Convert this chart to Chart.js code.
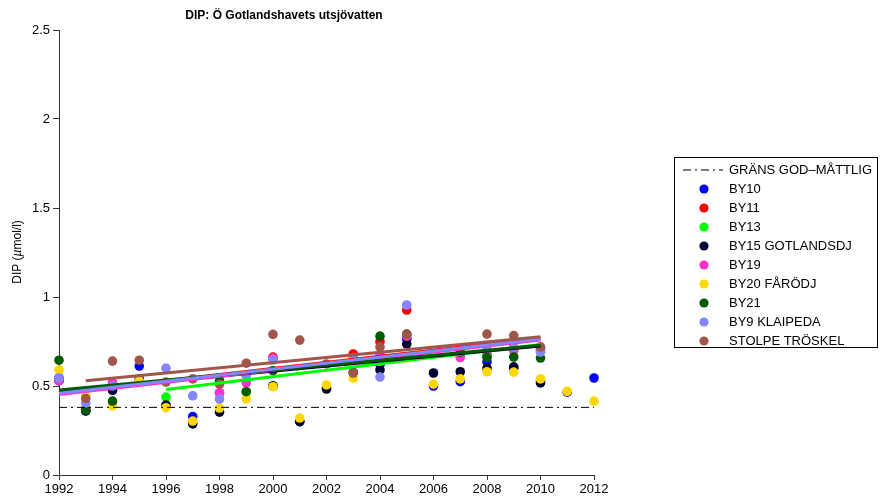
<!DOCTYPE html>
<html>
<head>
<meta charset="utf-8">
<script src="https://cdn.jsdelivr.net/npm/chart.js@4"></script>
<style>
html, body { margin: 0; padding: 0; background: #fff; }
</style>
</head>
<body>
<canvas id="chart" width="882" height="502"></canvas>
<script>
// year axis 1992..2012, one value per year (null = no sample)
const years = [1992,1993,1994,1995,1996,1997,1998,1999,2000,2001,2002,2003,2004,2005,2006,2007,2008,2009,2010,2011,2012];

const by10   = [0.545,0.36,0.48,0.612,0.39,0.328,null,null,0.50,0.30,0.49,null,0.62,0.764,0.50,0.524,0.636,0.60,0.53,0.465,0.545];
const by11   = [0.53,0.37,0.51,null,null,null,0.46,null,0.662,null,null,0.68,0.749,0.927,null,0.67,0.67,null,0.71,null,null];
const by13   = [null,null,null,null,0.438,null,null,0.465,null,null,null,null,0.66,null,null,null,0.68,0.72,0.70,null,null];
const by15   = [0.53,0.36,0.475,0.54,0.393,0.287,0.353,null,0.50,0.30,0.483,0.575,0.59,0.736,0.573,0.58,0.60,0.608,0.517,null,null];
const by19   = [0.53,0.37,0.52,null,null,null,0.462,0.518,0.655,null,null,0.66,0.674,0.78,null,0.66,0.70,0.70,0.70,null,null];
const by20   = [0.59,0.445,0.388,0.528,0.378,0.303,0.376,0.427,0.496,0.32,0.506,0.545,0.64,0.657,0.51,0.54,0.58,0.578,0.54,0.47,0.415];
const by21   = [0.645,0.365,0.415,null,null,null,0.53,0.468,0.586,null,null,null,0.78,0.792,null,0.69,0.66,0.663,0.657,null,null];
const by9    = [0.545,0.405,0.50,null,0.60,0.445,0.427,0.558,0.646,null,null,0.652,0.55,0.955,null,null,0.727,0.72,0.69,null,null];
const stolpe = [null,0.43,0.64,0.645,0.522,0.54,0.51,0.628,0.79,0.758,0.624,0.573,0.719,0.79,null,null,0.792,0.783,0.72,null,null];

// trend lines, start and end
const trendBY11   = [[1992, 0.462], [2010, 0.770]];
const trendBY13   = [[1996, 0.480], [2010, 0.733]];
const trendBY15   = [[1992, 0.470], [2010, 0.725]];
const trendBY19   = [[1992, 0.452], [2010, 0.758]];
const trendBY21   = [[1992, 0.478], [2010, 0.729]];
const trendBY9    = [[1992, 0.459], [2010, 0.764]];
const trendStolpe = [[1993, 0.530], [2010, 0.777]];

const limitLabel = "GRÄNS GOD–MÅTTLIG";
const limit = [[1992, 0.38], [2012, 0.38]];

const stations = [
  { label: "BY10", values: by10, color: "#0000ff" },
  { label: "BY11", values: by11, color: "#ff0000", trend: trendBY11 },
  { label: "BY13", values: by13, color: "#00ff00", trend: trendBY13 },
  { label: "BY15 GOTLANDSDJ", values: by15, color: "#00002e", trend: trendBY15 },
  { label: "BY19", values: by19, color: "#ff33cc", trend: trendBY19 },
  { label: "BY20 FÅRÖDJ", values: by20, color: "#ffd700" },
  { label: "BY21", values: by21, color: "#005a00", trend: trendBY21 },
  { label: "BY9 KLAIPEDA", values: by9, color: "#8585ff", trend: trendBY9 },
  { label: "STOLPE TRÖSKEL", values: stolpe, color: "#a0564a", trend: trendStolpe }
];

const pts = arr => arr.map(p => ({ x: p[0], y: p[1] }));

// first dataset is drawn on top, so lines go first, then stations last-to-first
const datasets = [];
datasets.push({
  type: "line", label: limitLabel, data: pts(limit),
  borderColor: "#000", borderWidth: 1, borderDash: [8, 4, 2, 4],
  pointRadius: 0, clip: false
});
stations.slice().reverse().forEach(s => {
  if (!s.trend) return;
  datasets.push({
    type: "line", label: s.label + " trend", data: pts(s.trend),
    borderColor: s.color, borderWidth: 3, pointRadius: 0, clip: false
  });
});
stations.slice().reverse().forEach(s => {
  datasets.push({
    type: "scatter", label: s.label,
    data: years.map((y, i) => ({ x: y, y: s.values[i] })).filter(p => p.y !== null),
    backgroundColor: s.color, borderColor: s.color,
    pointRadius: 4.8, borderWidth: 0, clip: false
  });
});

Chart.defaults.font.family = "'Liberation Sans', Arial, sans-serif";
Chart.defaults.font.size = 13;
Chart.defaults.color = "#000";

const extras = {
  id: "extras",
  afterDraw(chart) {
    const ctx = chart.ctx;
    ctx.save();
    ctx.fillStyle = "#000";

    // title
    ctx.font = "bold 12px 'Liberation Sans', Arial, sans-serif";
    ctx.textAlign = "center";
    ctx.textBaseline = "middle";
    ctx.fillText("DIP: Ö Gotlandshavets utsjövatten", 284, 16);

    // y axis title, µ in italic
    ctx.translate(18, 252);
    ctx.rotate(-Math.PI / 2);
    const parts = [["DIP (", ""], ["µ", "italic "], ["mol/l)", ""]];
    let w = 0;
    parts.forEach(p => { ctx.font = p[1] + "12px 'Liberation Sans', Arial, sans-serif"; w += ctx.measureText(p[0]).width; });
    let x = -w / 2;
    ctx.textAlign = "left";
    parts.forEach(p => {
      ctx.font = p[1] + "12px 'Liberation Sans', Arial, sans-serif";
      ctx.fillText(p[0], x, 0);
      x += ctx.measureText(p[0]).width;
    });
    ctx.setTransform(1, 0, 0, 1, 0, 0);

    // legend box
    ctx.strokeStyle = "#000";
    ctx.lineWidth = 1;
    ctx.strokeRect(674.5, 157.5, 203, 190);
    ctx.font = "13px 'Liberation Sans', Arial, sans-serif";
    ctx.textBaseline = "middle";
    ctx.textAlign = "left";
    let y = 170;
    ctx.beginPath();
    ctx.setLineDash([8, 4, 2, 4]);
    ctx.moveTo(683, y); ctx.lineTo(723, y);
    ctx.stroke();
    ctx.setLineDash([]);
    ctx.fillText(limitLabel, 729, y);
    stations.forEach(s => {
      y += 19;
      ctx.fillStyle = s.color;
      ctx.beginPath();
      ctx.arc(704, y, 4.6, 0, Math.PI * 2);
      ctx.fill();
      ctx.fillStyle = "#000";
      ctx.fillText(s.label, 729, y);
    });
    ctx.restore();
  }
};

new Chart(document.getElementById("chart"), {
  data: { datasets },
  options: {
    responsive: false,
    animation: false,
    layout: { padding: { top: 30, right: 288, left: 0, bottom: 0 } },
    plugins: { legend: { display: false }, tooltip: { enabled: false } },
    scales: {
      x: {
        type: "linear", min: 1992, max: 2012,
        afterFit: s => { s.height = 27; },
        border: { display: true, color: "#333", width: 1 },
        grid: { drawOnChartArea: false, color: "#333", tickLength: 5 },
        ticks: { stepSize: 2, padding: 2, maxRotation: 0, callback: v => String(v) }
      },
      y: {
        min: 0, max: 2.5,
        afterFit: s => { s.width = 59; },
        border: { display: true, color: "#333", width: 1 },
        grid: { drawOnChartArea: false, color: "#333", tickLength: 6 },
        ticks: { stepSize: 0.5, padding: 3, callback: v => String(v) }
      }
    }
  },
  plugins: [extras]
});
</script>
</body>
</html>
